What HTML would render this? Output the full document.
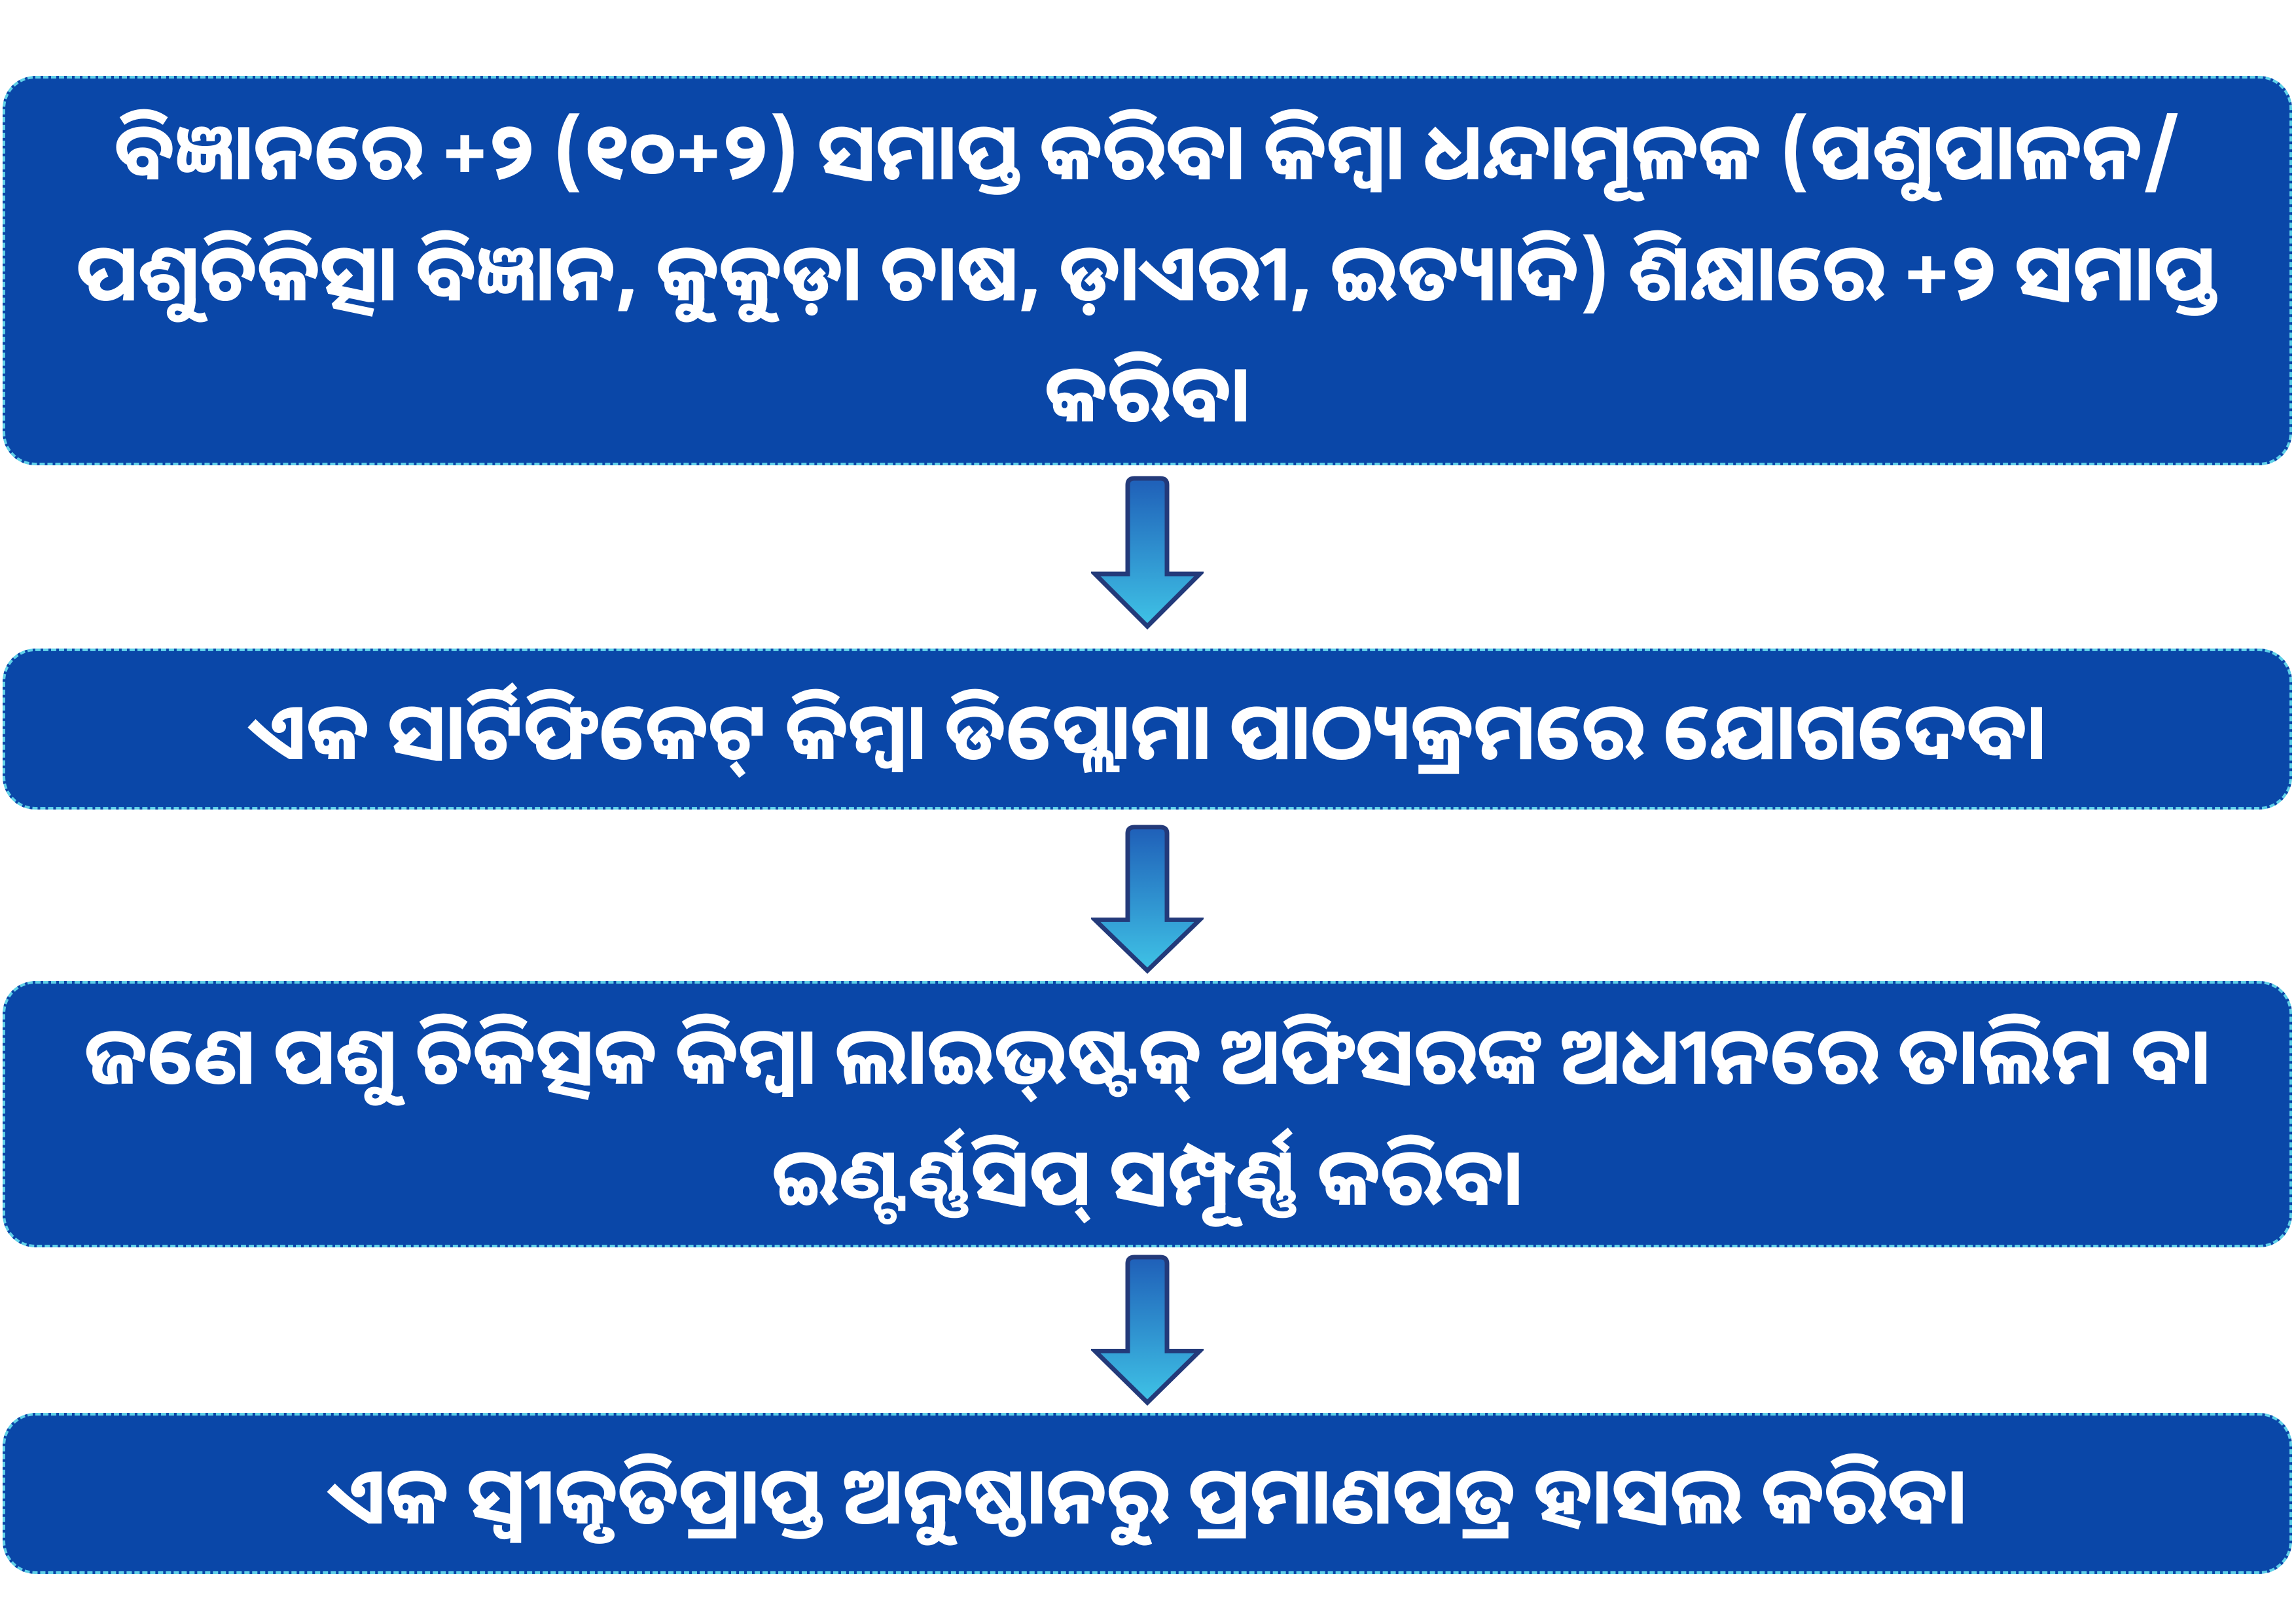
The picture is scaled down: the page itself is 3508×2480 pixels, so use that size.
<!DOCTYPE html>
<html><head><meta charset="utf-8"><style>
html,body{margin:0;padding:0;background:#fff;}
body{width:3508px;height:2480px;position:relative;overflow:hidden;font-family:"Noto Sans Oriya","Lohit Odia","Noto Sans","DejaVu Sans",sans-serif;}
.box{position:absolute;left:4px;width:3498px;background:#0a47a8;border-radius:50px;border:4px dashed #5fd0e8;box-sizing:border-box;color:#fff;font-weight:bold;display:flex;align-items:center;justify-content:center;text-align:center;font-size:121px;line-height:185px;padding:0 40px;}
.arr{position:absolute;left:1667px;width:172px;}
</style></head><body>
<div class="box" style="top:116px;height:595px;">ବିଜ୍ଞାନରେ +୨ (୧୦+୨) ସମାପ୍ତ କରିବା କିମ୍ବା ଧନ୍ଦାମୂଳକ (ପଶୁପାଳନ/ ପଶୁଚିକିତ୍ସା ବିଜ୍ଞାନ, କୁକୁଡ଼ା ଚାଷ, ଡ଼ାଏରୀ, ଇତ୍ୟାଦି) ଶିକ୍ଷାରେ +୨ ସମାପ୍ତ କରିବା</div>
<div class="box" style="top:991px;height:246px;">ଏକ ସାର୍ଟିଫିକେଟ୍ କିମ୍ବା ଡିପ୍ଲୋମା ପାଠ୍ୟକ୍ରମରେ ଯୋଗଦେବା</div>
<div class="box" style="top:1499px;height:407px;">ଜଣେ ପଶୁ ଚିକିତ୍ସକ କିମ୍ବା ଲାଇଭ୍‌ଷ୍ଟକ୍ ଅଫିସରଙ୍କ ଅଧୀନରେ ତାଲିମ ବା ଇଣ୍ଟର୍ଣ୍ଣସିପ୍ ସମ୍ପୂର୍ଣ୍ଣ କରିବା</div>
<div class="box" style="top:2159px;height:246px;">ଏକ ସ୍ୱୀକୃତିପ୍ରାପ୍ତ ଅନୁଷ୍ଠାନରୁ ପ୍ରମାଣପତ୍ର ହାସଲ କରିବା</div>
<svg width="0" height="0" style="position:absolute"><defs><linearGradient id="g" x1="0" y1="0" x2="0" y2="1"><stop offset="0" stop-color="#1f5fb8"/><stop offset="1" stop-color="#3fc3e6"/></linearGradient></defs></svg>
<svg class="arr" style="top:727px;height:235px" viewBox="0 0 172 235" preserveAspectRatio="none"><path d="M56 14 Q56 4 66 4 H106 Q116 4 116 14 V150 H166 L86 230 L6 150 H56 Z" fill="url(#g)" stroke="#233a7a" stroke-width="7"/></svg>
<svg class="arr" style="top:1260px;height:228px" viewBox="0 0 172 235" preserveAspectRatio="none"><path d="M56 14 Q56 4 66 4 H106 Q116 4 116 14 V150 H166 L86 230 L6 150 H56 Z" fill="url(#g)" stroke="#233a7a" stroke-width="7"/></svg>
<svg class="arr" style="top:1917px;height:231px" viewBox="0 0 172 235" preserveAspectRatio="none"><path d="M56 14 Q56 4 66 4 H106 Q116 4 116 14 V150 H166 L86 230 L6 150 H56 Z" fill="url(#g)" stroke="#233a7a" stroke-width="7"/></svg>
</body></html>
